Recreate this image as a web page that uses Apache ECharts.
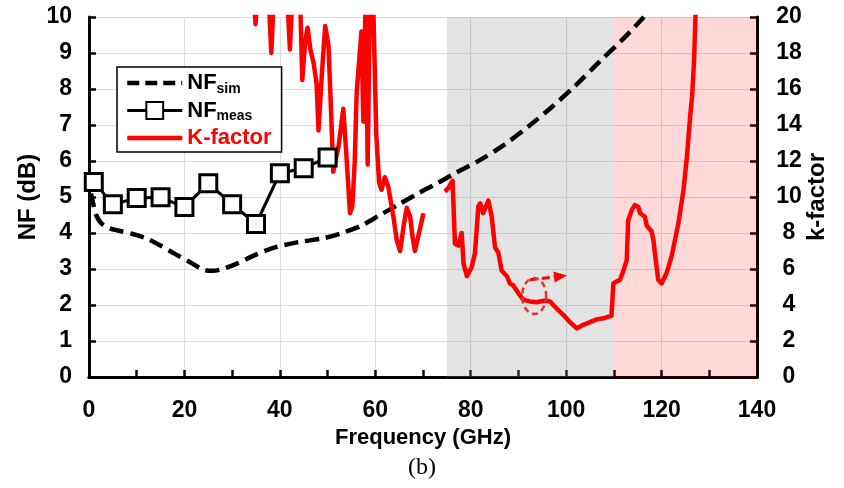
<!DOCTYPE html>
<html>
<head>
<meta charset="utf-8">
<script src="https://cdn.jsdelivr.net/npm/echarts@6/dist/echarts.min.js"></script>
<style>
html,body{margin:0;padding:0;background:#fff;}
#chart{width:844px;height:488px;}
</style>
</head>
<body>
<div id="chart"></div>
<script>
// ---- data ----
const xTicks = [0, 20, 40, 60, 80, 100, 120, 140];
const nfTicks = [0, 10];
const kTicks = [0, 20];

const freqMeas = [1, 5, 10, 15, 20, 25, 30, 35, 40, 45, 50];
const nfMeas = [5.42, 4.8, 4.97, 4.99, 4.72, 5.38, 4.8, 4.25, 5.66, 5.8, 6.1];

const freqSim = [0.4, 1, 1.5, 2.5, 4, 6, 9, 12, 15, 18, 21, 24, 26, 28, 31, 35, 39, 44, 49, 53, 57, 61, 65, 69, 73, 77, 82, 87, 92, 97, 102, 107, 112, 116.3];
const nfSim = [5.1, 4.75, 4.5, 4.28, 4.15, 4.07, 3.98, 3.85, 3.65, 3.42, 3.2, 2.98, 2.95, 3.0, 3.15, 3.4, 3.6, 3.75, 3.85, 4.0, 4.2, 4.5, 4.8, 5.1, 5.38, 5.68, 6.03, 6.45, 6.95, 7.5, 8.1, 8.76, 9.4, 10.0];

const freqK = [34.4, 34.9, 35.4, 37.6, 38.2, 38.8, 41.5, 42.1, 42.7, 44.2, 44.7, 45.3, 45.8, 46.4, 47.1, 47.7, 48.1, 48.8, 49.5, 50.2, 50.7, 51.2, 51.8, 52.3, 53.3, 53.9, 54.7, 55.2, 55.7, 56.1, 56.6, 57.1, 57.5, 58.0, 58.4, 58.9, 59.5, 60.2, 60.8, 61.3, 62.0, 62.7, 63.8, 64.5, 65.2, 66.0, 66.6, 67.3, 67.8, 68.3, 69.0, 70.1,
  72.0,
  74.6, 75.3, 76.2, 76.7, 77.4, 78.1, 78.5, 79.2, 80.2, 80.9, 81.6, 82.0, 82.6, 83.7, 84.4, 85.1, 85.8, 86.5, 87.6, 88.2, 88.9, 90.0, 91.0, 92.4, 93.8, 95.6, 96.6, 97.3, 98.4, 99.4, 100.8, 102.2, 103.6, 105.0, 106.4, 107.8, 108.8, 109.5,
  109.9, 110.5, 111.3, 112.0, 112.7, 113.0, 113.8, 114.4, 115.1, 115.5, 116.5, 116.9, 117.9, 118.3, 118.6, 119.3, 120.0, 121.1, 122.1, 123.5, 124.6, 125.3, 126.0, 126.4, 126.8, 127.1, 127.3];
const kFactor = [21.5, 19.6, 21.5, 21.5, 18.0, 21.5, 21.5, 18.2, 21.5, 21.5, 16.5, 18.6, 19.4, 18.2, 17.4, 16.3, 13.7, 16.8, 19.5, 18.4, 15.0, 11.4, 12.2, 12.8, 14.9, 12.5, 9.1, 9.5, 12.0, 15.8, 17.5, 19.2, 14.2, 21.5, 11.8, 21.5, 21.5, 13.5, 10.8, 10.4, 11.1, 10.6, 8.9, 7.6, 7.0, 8.5, 9.4, 8.9, 7.8, 7.0, 7.8, 9.1,
  '-',
  10.3, 10.5, 10.9, 7.4, 7.3, 8.0, 6.3, 5.6, 6.1, 6.9, 9.5, 9.65, 9.1, 9.8, 8.9, 7.2, 6.9, 5.9, 5.6, 5.2, 5.1, 4.65, 4.3, 4.2, 4.15, 4.25, 4.2, 4.0, 3.7, 3.45, 3.05, 2.7, 2.9, 3.05, 3.2, 3.26, 3.35, 3.4,
  5.2, 5.3, 5.4, 5.9, 6.5, 8.7, 9.3, 9.55, 9.46, 9.1, 8.9, 8.4, 8.1, 7.6, 6.9, 5.4, 5.2, 5.8, 6.7, 8.5, 10.4, 12.2, 14.5, 15.6, 17.5, 20.0, 21.5];

const wBandRange = [75, 110];
const dBandRange = [110, 140];
const circleCenter = [93.3, 4.5];
const arrowFrom = [92.4, 5.4];
const arrowTo = [98.8, 5.6];

// ---- chart ----
const FONT = "'Liberation Sans',Arial,sans-serif";
const chart = echarts.init(document.getElementById('chart'), null, {renderer: 'canvas'});
const zip = (a, b) => a.map((v, i) => [v, b[i]]);

const legendRich = {
  b: {fontFamily: FONT, fontWeight: 'bold', fontSize: 22, color: '#000', lineHeight: 26},
  s: {fontFamily: FONT, fontWeight: 'bold', fontSize: 14, color: '#000', lineHeight: 13, verticalAlign: 'bottom'},
  r: {fontFamily: FONT, fontWeight: 'bold', fontSize: 22, color: '#ff0000', lineHeight: 26}
};
const tickStyle = {color: '#000', width: 2.5};

const option = {
  animation: false,
  title: {
    text: '(b)', left: 'center', top: 451,
    textStyle: {fontFamily: "'Liberation Serif','Times New Roman',serif", fontWeight: 'normal', fontSize: 24, color: '#000'}
  },
  grid: {left: 89, right: 87, top: 17, bottom: 111, containLabel: false},
  legend: {
    left: 117, top: 67, orient: 'vertical',
    padding: [5, 10, 3, 8],
    borderColor: '#000', borderWidth: 1.5,
    backgroundColor: '#fff',
    itemWidth: 55, itemHeight: 21, itemGap: 3.5,
    data: [
      {name: 'NFsim', itemStyle: {opacity: 0}, lineStyle: {width: 4.5, type: [12, 6]}},
      {name: 'NFmeas', lineStyle: {width: 3}},
      {name: 'K-factor', itemStyle: {opacity: 0}, lineStyle: {width: 4.5}}
    ],
    formatter: function (n) {
      if (n === 'NFsim') return '{b|NF}{s|sim}';
      if (n === 'NFmeas') return '{b|NF}{s|meas}';
      return '{r|K-factor}';
    },
    textStyle: {rich: legendRich}
  },
  xAxis: [{
    type: 'value', min: xTicks[0], max: xTicks[xTicks.length - 1], interval: 20,
    name: 'Frequency (GHz)', nameLocation: 'middle', nameGap: 50, nameMoveOverlap: false,
    nameTextStyle: {fontFamily: FONT, fontWeight: 'bold', fontSize: 22, color: '#000'},
    axisLine: {show: true, onZero: false, lineStyle: {color: '#000', width: 3}},
    axisTick: {show: true, inside: true, length: 7, lineStyle: tickStyle},
    minorTick: {show: true, splitNumber: 2, length: 7, lineStyle: tickStyle},
    axisLabel: {fontFamily: FONT, fontWeight: 'bold', fontSize: 23, color: '#000', margin: 22},
    splitLine: {show: true, lineStyle: {color: '#dcdcdc', width: 1}}
  }, {
    type: 'value', position: 'top', min: xTicks[0], max: xTicks[xTicks.length - 1],
    axisLine: {show: true, lineStyle: {color: '#000', width: 3}},
    axisTick: {show: false}, axisLabel: {show: false}, splitLine: {show: false}
  }],
  yAxis: [{
    type: 'value', min: nfTicks[0], max: nfTicks[1], interval: 1,
    name: 'NF (dB)', nameLocation: 'middle', nameGap: 49, nameMoveOverlap: false,
    nameTextStyle: {fontFamily: FONT, fontWeight: 'bold', fontSize: 24, color: '#000'},
    axisLine: {show: true, onZero: false, lineStyle: {color: '#000', width: 3}},
    axisTick: {show: true, inside: true, length: 7, lineStyle: tickStyle},
    axisLabel: {fontFamily: FONT, fontWeight: 'bold', fontSize: 23, color: '#000', margin: 17},
    splitLine: {show: true, lineStyle: {color: '#dcdcdc', width: 1}}
  }, {
    type: 'value', min: kTicks[0], max: kTicks[1], interval: 2, position: 'right',
    name: 'k-factor', nameLocation: 'middle', nameGap: 48, nameMoveOverlap: false,
    nameTextStyle: {fontFamily: FONT, fontWeight: 'bold', fontSize: 24, color: '#000'},
    axisLine: {show: true, onZero: false, lineStyle: {color: '#000', width: 3}},
    axisTick: {show: true, inside: true, length: 7, lineStyle: tickStyle},
    axisLabel: {fontFamily: FONT, fontWeight: 'bold', fontSize: 23, color: '#000', margin: 32, align: 'center'},
    splitLine: {show: false}
  }],
  series: [{
    name: 'bandD', type: 'line', data: [], z: 1, silent: true,
    markArea: {silent: true, itemStyle: {color: 'rgba(255,0,0,0.15)'},
      data: [[{xAxis: dBandRange[0]}, {xAxis: dBandRange[1]}]]}
  }, {
    name: 'NFsim', type: 'line', data: zip(freqSim, nfSim), smooth: 0.3,
    showSymbol: false, symbol: 'none', z: 3,
    lineStyle: {color: '#000', width: 4.5, type: [14, 7]},
    itemStyle: {color: '#000'}
  }, {
    name: 'NFmeas', type: 'line', data: zip(freqMeas, nfMeas), z: 4,
    symbol: 'rect', symbolSize: 17, showSymbol: true,
    lineStyle: {color: '#000', width: 3},
    itemStyle: {color: '#fff', borderColor: '#000', borderWidth: 3}
  }, {
    name: 'K-factor', type: 'line', yAxisIndex: 1, data: zip(freqK, kFactor), z: 3,
    showSymbol: false, symbol: 'none', connectNulls: false,
    lineStyle: {color: '#ff0000', width: 4.5, join: 'round'},
    itemStyle: {color: '#ff0000'},
    markLine: {
      silent: true, symbol: ['none', 'triangle'], symbolSize: [11, 13],
      label: {show: false},
      lineStyle: {color: '#ff0000', width: 3, type: [8, 4]},
      data: [[{coord: arrowFrom}, {coord: arrowTo}]]
    }
  }, {
    name: 'bandW', type: 'line', data: [], z: 6, silent: true,
    markArea: {silent: true, itemStyle: {color: 'rgba(150,150,150,0.27)'},
      data: [[{xAxis: wBandRange[0]}, {xAxis: wBandRange[1]}]]}
  }]
};
chart.setOption(option);

// dashed ellipse annotation, placed through the axes
const c = chart.convertToPixel({xAxisIndex: 0, yAxisIndex: 1}, circleCenter);
const rx = 12, ry = 18;
const pts = [];
for (let i = 0; i <= 48; i++) {
  const a = i / 48 * Math.PI * 2;
  pts.push([c[0] + rx * Math.cos(a), c[1] + ry * Math.sin(a)]);
}
chart.setOption({
  graphic: [{
    type: 'polyline', z: 100, silent: true,
    shape: {points: pts},
    style: {stroke: '#e8302c', lineWidth: 2.5, fill: null, lineDash: [6, 4]}
  }]
});
</script>
</body>
</html>
